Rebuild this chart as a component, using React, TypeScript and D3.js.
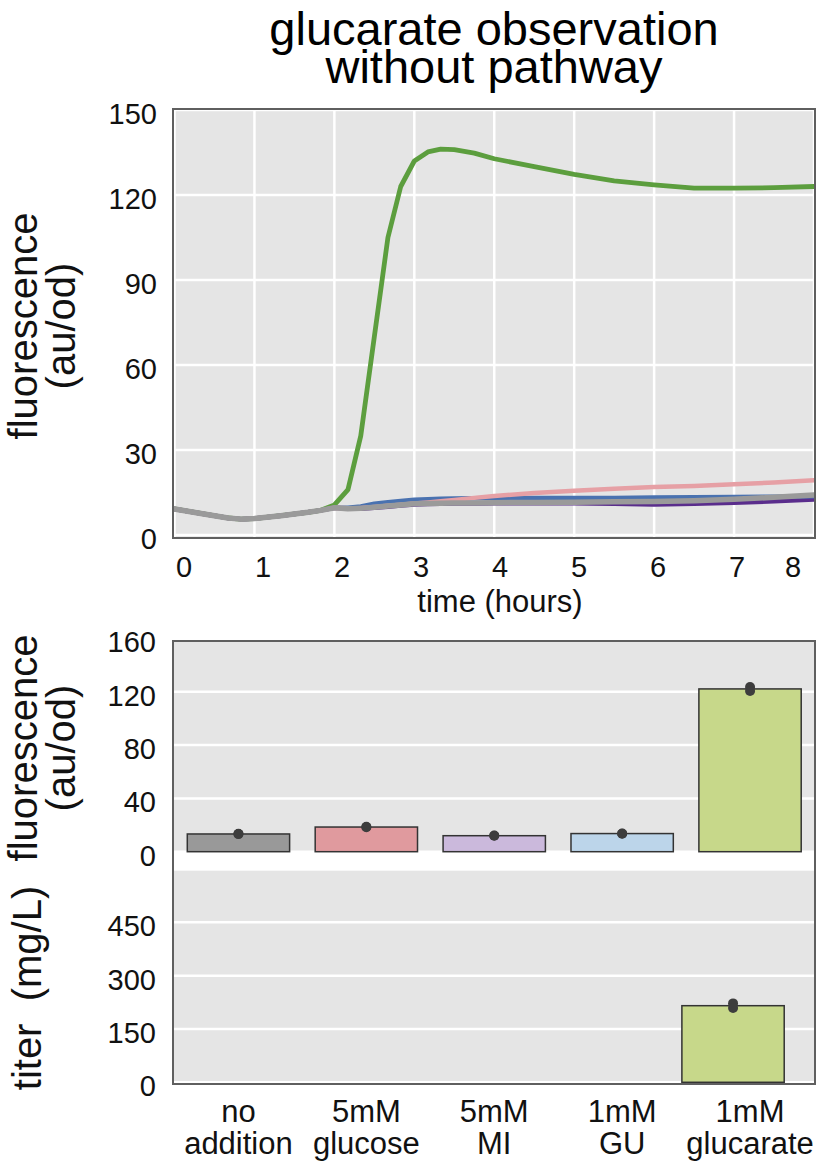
import React from "react";
import * as d3 from "d3";

// ---------- data: time course ----------
const times = [0, 0.33, 0.67, 0.83, 1.0, 1.33, 1.67, 1.83, 2.0, 2.17, 2.33, 2.5, 2.67, 2.83, 3.0, 3.17, 3.33, 3.5, 3.75, 4.0, 4.5, 5.0, 5.5, 6.0, 6.5, 7.0, 7.5, 8.0];
const noAddition = [9.2, 7.6, 6.0, 5.6, 5.8, 6.8, 8.0, 8.7, 9.6, 9.3, 9.4, 9.8, 10.2, 10.6, 11.0, 11.1, 11.2, 11.3, 11.3, 11.4, 11.5, 11.6, 11.7, 11.8, 12.1, 12.6, 13.3, 14.1];
const glucose = [9.2, 7.6, 6.0, 5.6, 5.8, 6.8, 8.0, 8.7, 9.6, 9.4, 9.5, 9.9, 10.3, 10.7, 11.1, 11.5, 11.9, 12.4, 13.1, 13.8, 14.8, 15.6, 16.3, 16.9, 17.3, 17.9, 18.5, 19.3];
const mi = [9.2, 7.6, 6.0, 5.6, 5.8, 6.8, 8.0, 8.7, 9.6, 9.3, 9.3, 9.6, 10.0, 10.4, 10.8, 10.9, 11.0, 11.1, 11.1, 11.2, 11.2, 11.2, 11.0, 10.8, 11.0, 11.4, 11.9, 12.5];
const gu = [9.2, 7.6, 6.0, 5.6, 5.8, 6.8, 8.0, 8.7, 9.6, 9.6, 10.1, 11.0, 11.6, 12.0, 12.4, 12.6, 12.8, 12.9, 13.0, 13.1, 13.1, 13.1, 13.1, 13.2, 13.3, 13.4, 13.5, 13.7];
const glucarate = [9.2, 7.6, 6.0, 5.6, 5.8, 6.8, 8.0, 8.7, 10.6, 16, 35, 70, 105, 123, 132, 135.2, 136.2, 136, 134.8, 132.8, 130, 127.3, 125, 123.6, 122.4, 122.4, 122.6, 123];

const lineSeries = [
  { name: "glucarate", values: glucarate, color: "#5c9e3e", width: 4.8 },
  { name: "MI", values: mi, color: "#5a2d8c", width: 4.5 },
  { name: "GU", values: gu, color: "#4a72b0", width: 4.5 },
  { name: "glucose", values: glucose, color: "#e6a0a5", width: 4.5 },
  { name: "no addition", values: noAddition, color: "#9a9a9a", width: 5.5 },
];

const timeTicks = [0, 1, 2, 3, 4, 5, 6, 7, 8];
const fluorTicksTop = [0, 30, 60, 90, 120, 150];

// ---------- data: end-point bars ----------
const categories = ["no addition", "5mM glucose", "5mM MI", "1mM GU", "1mM glucarate"];
const categoryLines = [["no", "addition"], ["5mM", "glucose"], ["5mM", "MI"], ["1mM", "GU"], ["1mM", "glucarate"]];
const fluorReps = [[13.4, 13.2], [18.7, 18.3], [12.1, 11.9], [13.7, 13.5], [123.6, 120.6]];
const barColors = ["#999999", "#e09a9e", "#cbb9dc", "#bcd5ea", "#c7d88a"];
const fluorTicksBottom = [0, 40, 80, 120, 160];

const titerCategories = ["1mM glucarate"];
const titerReps = [[222, 209]];
const titerTicks = [0, 150, 300, 450];

const FONT = "'Liberation Sans', Arial, Helvetica, sans-serif";
const BG = "#e5e5e5";
const FRAME = "#5f5f5f";

export default function App() {
  const W = 820, H = 1164;

  // top panel
  const tp = { x0: 173, x1: 815, y0: 109, y1: 538 };
  const xT = d3.scaleLinear().domain([0, 8]).range([174.5, 814]);
  const yT = d3.scaleLinear().domain([0, 150]).range([535, 110]);
  const xLab = d3.scaleLinear().domain([0, 7]).range([184, 737]);
  const line = d3.line<number>().x((_, i) => xT(times[i])).y((d) => yT(d)).curve(d3.curveLinear);

  // bottom panels
  const bp = { x0: 173, x1: 815, y0: 641, y1: 1084 };
  const p1 = { y0: 641, y1: 851.7 };
  const p2 = { y0: 870.7, y1: 1084 };
  const xB = d3.scaleBand().domain(categories).range([174.5, 814]).paddingInner(0).paddingOuter(0);
  const xBT = d3.scaleBand().domain(categories).range([157.5, 797]).paddingInner(0).paddingOuter(0);
  const yF = d3.scaleLinear().domain([0, 160]).range([851.7, 638.4]);
  const yTi = d3.scaleLinear().domain([0, 600]).range([1082.3, 869]);
  const bw = xB.bandwidth() * 0.8;

  const tickFont = 29;
  const labelFont = 40;

  return (
    <svg width={W} height={H} style={{ position: "absolute", left: 0, top: 0 }} fontFamily={FONT}>
      <rect x={0} y={0} width={W} height={H} fill="#ffffff" />
      {/* title */}
      <text x={494} y={45} fontSize={47} textAnchor="middle" fill="#000">glucarate observation</text>
      <text x={494} y={83} fontSize={47} textAnchor="middle" fill="#000">without pathway</text>

      {/* ---------- top panel ---------- */}
      <defs>
        <clipPath id="clipTop">
          <rect x={tp.x0} y={tp.y0} width={tp.x1 - tp.x0} height={tp.y1 - tp.y0} />
        </clipPath>
        <clipPath id="clipP2">
          <rect x={bp.x0} y={p2.y0} width={bp.x1 - bp.x0} height={p2.y1 - p2.y0} />
        </clipPath>
      </defs>
      <rect x={tp.x0} y={tp.y0} width={tp.x1 - tp.x0} height={tp.y1 - tp.y0} fill={BG} />
      <g clipPath="url(#clipTop)">
        {fluorTicksTop.map((v) => (
          <line key={"gy" + v} x1={tp.x0} x2={tp.x1} y1={yT(v)} y2={yT(v)} stroke="#fff" strokeWidth={2.5} />
        ))}
        {timeTicks.map((v) => (
          <line key={"gx" + v} x1={xT(v)} x2={xT(v)} y1={tp.y0} y2={tp.y1} stroke="#fff" strokeWidth={2.5} />
        ))}
        {lineSeries.map((s) => (
          <path key={s.name} d={line(s.values) || ""} fill="none" stroke={s.color} strokeWidth={s.width} strokeLinejoin="round" strokeLinecap="round" />
        ))}
      </g>
      <rect x={tp.x0} y={tp.y0} width={tp.x1 - tp.x0} height={tp.y1 - tp.y0} fill="none" stroke={FRAME} strokeWidth={2} />
      {fluorTicksTop.map((v) => (
        <text key={"ty" + v} x={157} y={yT(v) + 14} fontSize={tickFont} textAnchor="end" fill="#111">{v}</text>
      ))}
      {timeTicks.map((v) => (
        <text key={"tx" + v} x={Math.min(xLab(v), 793)} y={577} fontSize={tickFont} textAnchor="middle" fill="#111">{v}</text>
      ))}
      <text x={500} y={612} fontSize={31} textAnchor="middle" fill="#111">time (hours)</text>
      <g transform={`translate(37, 326) rotate(-90)`}>
        <text x={0} y={0} fontSize={labelFont} textAnchor="middle" fill="#111">fluorescence</text>
      </g>
      <g transform={`translate(75, 326) rotate(-90)`}>
        <text x={0} y={0} fontSize={labelFont} textAnchor="middle" fill="#111">(au/od)</text>
      </g>

      {/* ---------- bottom panels ---------- */}
      <rect x={bp.x0} y={p1.y0} width={bp.x1 - bp.x0} height={p1.y1 - p1.y0} fill={BG} />
      <rect x={bp.x0} y={p2.y0} width={bp.x1 - bp.x0} height={p2.y1 - p2.y0} fill={BG} />
      {fluorTicksBottom.filter((v) => yF(v) >= p1.y0).map((v) => (
        <line key={"gf" + v} x1={bp.x0} x2={bp.x1} y1={yF(v)} y2={yF(v)} stroke="#fff" strokeWidth={2.5} />
      ))}
      {titerTicks.map((v) => (
        <line key={"gt" + v} x1={bp.x0} x2={bp.x1} y1={yTi(v)} y2={yTi(v)} stroke="#fff" strokeWidth={2.5} />
      ))}
      {categories.map((c, i) => {
        const reps = fluorReps[i];
        const mean = d3.mean(reps) as number;
        const cx = (xB(c) as number) + xB.bandwidth() / 2;
        return (
          <g key={"bf" + c}>
            <rect x={cx - bw / 2} y={yF(mean)} width={bw} height={yF(0) - yF(mean)} fill={barColors[i]} stroke="#333" strokeWidth={1.5} />
            {reps.map((r, j) => (
              <circle key={j} cx={cx} cy={yF(r)} r={5} fill="#3d3d3d" />
            ))}
          </g>
        );
      })}
      <g clipPath="url(#clipP2)">
        {titerCategories.map((c, k) => {
          const i = categories.indexOf(c);
          const reps = titerReps[k];
          const mean = d3.mean(reps) as number;
          const cx = (xBT(c) as number) + xBT.bandwidth() / 2;
          return (
            <g key={"bt" + c}>
              <rect x={cx - bw / 2} y={yTi(mean)} width={bw} height={yTi(0) - yTi(mean)} fill={barColors[i]} stroke="#333" strokeWidth={1.5} />
              {reps.map((r, j) => (
                <circle key={j} cx={cx} cy={yTi(r)} r={5} fill="#3d3d3d" />
              ))}
            </g>
          );
        })}
      </g>
      <rect x={bp.x0} y={bp.y0} width={bp.x1 - bp.x0} height={bp.y1 - bp.y0} fill="none" stroke={FRAME} strokeWidth={2} />
      {fluorTicksBottom.map((v) => (
        <text key={"tf" + v} x={156} y={yF(v) + 14} fontSize={tickFont} textAnchor="end" fill="#111">{v}</text>
      ))}
      {titerTicks.map((v) => (
        <text key={"tt" + v} x={156} y={yTi(v) + 14} fontSize={tickFont} textAnchor="end" fill="#111">{v}</text>
      ))}
      {categories.map((c, i) => {
        const cx = (xB(c) as number) + xB.bandwidth() / 2;
        return (
          <g key={"cl" + c}>
            <text x={cx} y={1122} fontSize={31} textAnchor="middle" fill="#111">{categoryLines[i][0]}</text>
            <text x={cx} y={1154} fontSize={31} textAnchor="middle" fill="#111">{categoryLines[i][1]}</text>
          </g>
        );
      })}
      <g transform={`translate(37, 748) rotate(-90)`}>
        <text x={0} y={0} fontSize={labelFont} textAnchor="middle" fill="#111">fluorescence</text>
      </g>
      <g transform={`translate(75, 748) rotate(-90)`}>
        <text x={0} y={0} fontSize={labelFont} textAnchor="middle" fill="#111">(au/od)</text>
      </g>
      <g transform={`translate(41, 988) rotate(-90)`}>
        <text x={0} y={0} fontSize={labelFont} textAnchor="middle" fill="#111" style={{ whiteSpace: "pre" }}>{"titer  (mg/L)"}</text>
      </g>
    </svg>
  );
}
